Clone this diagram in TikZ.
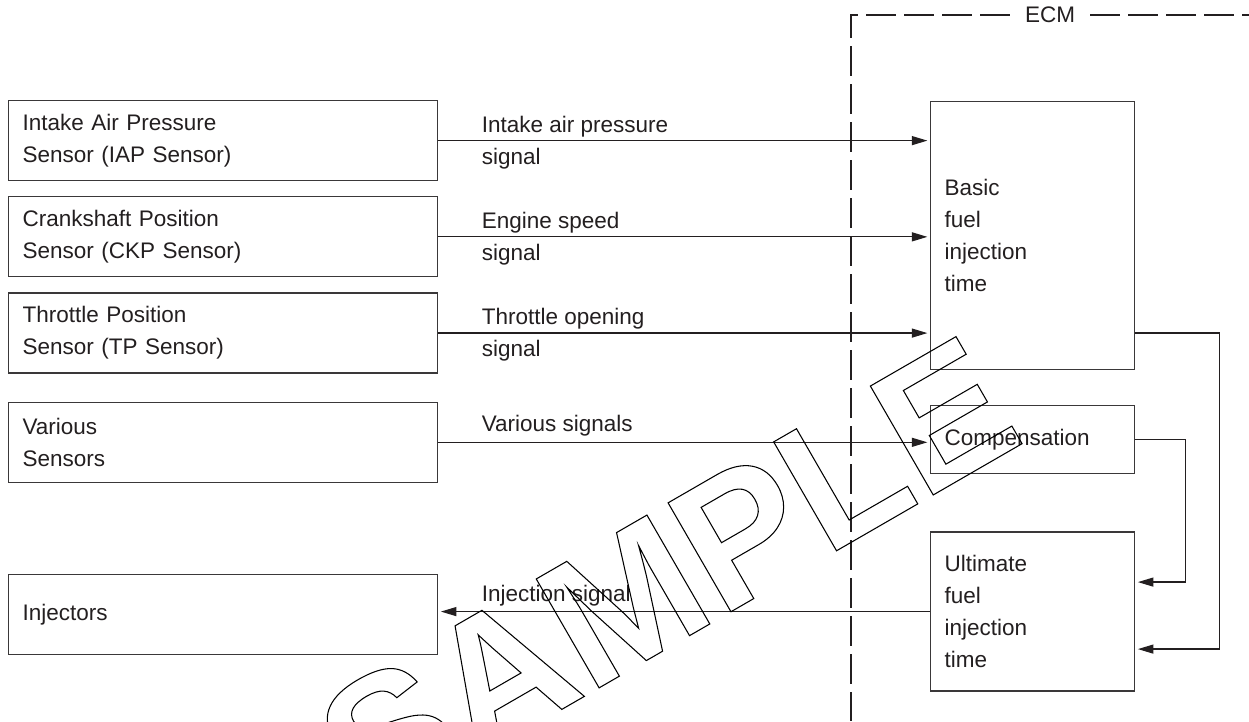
\documentclass[tikz,border=0pt]{standalone}
\usepackage{fontspec}
\setmainfont{Liberation Sans}
\usepackage{xcolor}
\usepackage{tikz}
\usetikzlibrary{arrows.meta,positioning,calc}
\definecolor{ink}{HTML}{231F20}
\definecolor{rule}{HTML}{3A3839}
\newcommand{\outlinetext}[1]{\special{pdf:literal direct 1 Tr 0.6 w}#1\special{pdf:literal direct 0 Tr}}

\begin{document}
\begin{tikzpicture}[
  every node/.style={font=\fontsize{12.8}{18.2}\selectfont, text=ink},
  sensor/.style={rectangle, draw=rule, line width=0.7pt, minimum width=8.58cm, minimum height=1.6cm, text width=8.02cm, align=left, inner xsep=0.28cm, inner ysep=0pt},
  ecu/.style={rectangle, draw=rule, line width=0.7pt, minimum width=4.08cm, text width=3.52cm, align=left, inner xsep=0.28cm, inner ysep=0pt},
  sig/.style={-{Triangle[length=3.1mm,width=1.8mm]}, line width=0.7pt, draw=ink, shorten >=1.5pt},
  siglabel/.style={align=left, inner sep=0pt},
  boundary/.style={draw=ink, line width=0.6pt, dash pattern=on 0.6cm off 0.16cm},
  watermark/.style={font=\fontsize{104}{104}\selectfont\bfseries, text=black, inner sep=0pt, rotate=30}
]
\useasboundingbox (0,0) rectangle (24.98,-14.42);

% sensors
\node[sensor, anchor=north west] (iap) at (0.16,-2.0) {Intake Air Pressure\\Sensor (IAP Sensor)};
\node[sensor, below=0.3cm of iap]  (ckp) {Crankshaft Position\\Sensor (CKP Sensor)};
\node[sensor, below=0.3cm of ckp]  (tps) {Throttle Position\\Sensor (TP Sensor)};
\node[sensor, below=0.56cm of tps] (vss) {Various\\Sensors};
\node[sensor, below=1.82cm of vss] (inj) {Injectors};

% ECM blocks
\node[ecu, minimum height=5.36cm, anchor=north west] (basic) at (18.6,-2.02) {Basic\\fuel\\injection\\time};
\node[ecu, minimum height=1.36cm, below=0.7cm of basic] (comp) {Compensation};
\node[ecu, minimum height=3.18cm, below=1.14cm of comp] (ult)  {Ultimate\\fuel\\injection\\time};

% ECM boundary
\node[fill=white, inner xsep=0.3cm, inner ysep=2pt] (ecm) at (21.0,-0.3) {ECM};
\coordinate (ecmcorner) at (17.02,-0.3);
\coordinate (ecmbottom) at (17.02,-14.42);
\coordinate (ecmright)  at (24.98,-0.3);
\draw[boundary] (ecm.west) -- (ecmcorner) -- (ecmbottom);
\draw[boundary] (ecm.east) -- (ecmright);

% signals
\draw[sig] (iap.east) -- node[siglabel, pos=0, anchor=west, xshift=0.86cm, yshift=-0.04cm]{Intake air pressure\\signal} (iap.east -| basic.west);
\draw[sig] (ckp.east) -- node[siglabel, pos=0, anchor=west, xshift=0.86cm, yshift=-0.04cm]{Engine speed\\signal} (ckp.east -| basic.west);
\draw[sig] (tps.east) -- node[siglabel, pos=0, anchor=west, xshift=0.86cm, yshift=-0.04cm]{Throttle opening\\signal} (tps.east -| basic.west);
\draw[sig] (vss.east) -- node[siglabel, pos=0, anchor=base west, xshift=0.86cm, yshift=0.21cm]{Various signals} (vss.east -| comp.west);
\draw[sig] (ult.west) -- node[siglabel, pos=1, anchor=base west, xshift=0.86cm, yshift=0.21cm]{Injection signal} (ult.west -| inj.east);

\draw[sig] (basic.east |- tps.east) -- ++(1.68,0) |- ($(ult.east)+(0,-0.75)$);
\draw[sig] (comp.east) -- ++(1.0,0) |- ($(ult.east)+(0,0.59)$);

% watermark
\node[watermark] (stamp) at (13.34,-11.52) {\outlinetext{SAMPLE}};
\end{tikzpicture}
\end{document}
